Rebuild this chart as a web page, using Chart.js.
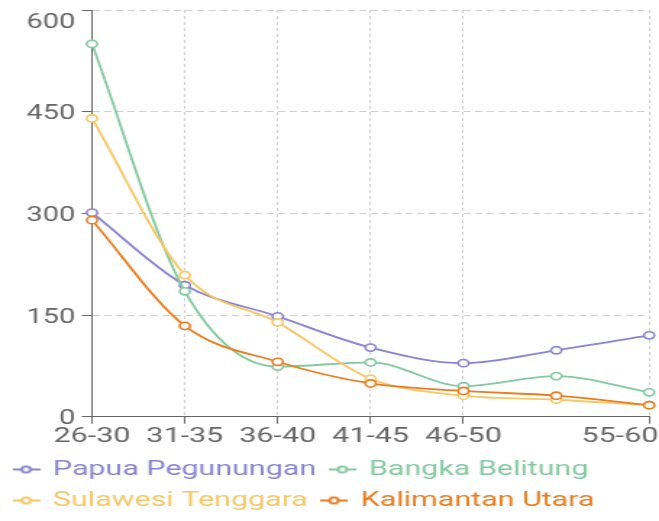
<!DOCTYPE html>
<html>
<head>
<meta charset="utf-8">
<script src="https://cdn.jsdelivr.net/npm/chart.js@4/dist/chart.umd.min.js"></script>
<style>
  html, body { margin: 0; padding: 0; background: #fff; overflow: hidden; }
  #wrap { width: 455px; height: 521px; transform: scaleX(1.4484); transform-origin: 0 0; }
</style>
</head>
<body>
<div id="wrap"><canvas id="c" width="455" height="521"></canvas></div>
<script>
// Age groups along the x axis
const categories = ['26-30', '31-35', '36-40', '41-45', '46-50', '51-55', '55-60'];
// Categories that get no tick, label or grid line
const unlabeledCategories = ['51-55'];
// Value axis ticks
const yTicks = [0, 150, 300, 450, 600];

// Series
const papuaPegunungan   = [301, 194, 148, 102, 79, 98, 120];
const bangkaBelitung    = [550, 185, 74, 80, 45, 60, 36];
const sulawesiTenggara  = [440, 209, 139, 56, 31, 25, 17];
const kalimantanUtara   = [290, 134, 81, 49, 38, 31, 17];

const seriesNames  = ['Papua Pegunungan', 'Bangka Belitung', 'Sulawesi Tenggara', 'Kalimantan Utara'];
const seriesValues = [papuaPegunungan, bangkaBelitung, sulawesiTenggara, kalimantanUtara];
const seriesColors = ['#8985cf', '#84c9a0', '#f5c766', '#e97d1f'];

const AXIS_COLOR = '#666';
const GRID_COLOR = '#cfcfcf';
const Y_FONT = '20px Roboto';
const X_FONT = '21px Roboto';
const LEGEND_SIZE = 21;

Chart.defaults.font.family = 'Roboto';

// Legend marker: short line with a hollow circle in the middle
const iconCache = {};
function legendIcon(color) {
  if (iconCache[color]) return iconCache[color];
  const c = document.createElement('canvas');
  c.width = 19; c.height = 10;
  const g = c.getContext('2d');
  const cx = 9.5, cy = 5, r = 3;
  g.strokeStyle = color;
  g.lineWidth = 2;
  g.beginPath();
  g.moveTo(0, cy); g.lineTo(cx - r, cy);
  g.moveTo(cx + r, cy); g.lineTo(c.width, cy);
  g.stroke();
  g.beginPath();
  g.arc(cx, cy, r, 0, Math.PI * 2);
  g.stroke();
  iconCache[color] = c;
  return c;
}

// Tick labels kept inside the canvas: the last x label is pulled in from the
// right edge and the top y label is pushed down below the top edge.
const tickLabels = {
  id: 'tickLabels',
  afterDraw(chart) {
    const { ctx, chartArea } = chart;
    const xs = chart.scales.x, ys = chart.scales.y;
    ctx.save();
    ctx.fillStyle = AXIS_COLOR;
    ctx.textBaseline = 'alphabetic';

    ctx.font = Y_FONT;
    ctx.textAlign = 'right';
    ys.ticks.forEach(t => {
      const py = Math.max(ys.getPixelForValue(t.value), chartArea.top + 10.5);
      ctx.fillText(String(t.value), ys.right - 11.5, py + 7.5);
    });

    ctx.font = X_FONT;
    ctx.textAlign = 'center';
    xs.ticks.forEach(t => {
      const label = xs.getLabelForValue(t.value);
      const w = ctx.measureText(label).width;
      let px = xs.getPixelForValue(t.value);
      px = Math.min(px, chart.width - w / 2 - 0.5);
      px = Math.max(px, w / 2);
      ctx.fillText(label, px, xs.top + 25);
    });
    ctx.restore();
  }
};

const datasets = seriesNames.map((name, i) => ({
  label: name,
  data: seriesValues[i],
  borderColor: seriesColors[i],
  backgroundColor: '#fff',
  borderWidth: 1.8,
  cubicInterpolationMode: 'monotone',
  pointRadius: 3.6,
  pointBorderWidth: 1.6,
  pointBackgroundColor: '#fff',
  pointBorderColor: seriesColors[i],
  order: seriesNames.length - 1 - i
}));

new Chart(document.getElementById('c'), {
  type: 'line',
  data: { labels: categories, datasets },
  plugins: [tickLabels],
  options: {
    responsive: false,
    animation: false,
    devicePixelRatio: 1,
    events: [],
    layout: { padding: { top: 10, right: 6.8, left: 0, bottom: 0 } },
    scales: {
      x: {
        type: 'category',
        offset: false,
        grid: { color: GRID_COLOR, tickColor: AXIS_COLOR, tickLength: 7, drawTicks: true },
        border: { color: AXIS_COLOR, width: 1, dash: [3, 3] },
        ticks: { display: false, autoSkip: false, maxRotation: 0, minRotation: 0 },
        afterBuildTicks(s) {
          s.ticks = s.ticks.filter(t => !unlabeledCategories.includes(categories[t.value]));
        },
        afterFit(s) {
          s.height = 32.3;
          s.paddingLeft = 0;
          s.paddingRight = 0;
        }
      },
      y: {
        min: 0,
        max: 600,
        grid: { color: GRID_COLOR, tickColor: AXIS_COLOR, tickLength: 7, drawTicks: true },
        border: { color: AXIS_COLOR, width: 1, dash: [5, 3] },
        ticks: { display: false },
        afterBuildTicks(s) {
          s.ticks = yTicks.map(v => ({ value: v }));
        },
        afterFit(s) {
          s.width = 63.5;
          s.paddingTop = 0;
          s.paddingBottom = 0;
        }
      }
    },
    plugins: {
      tooltip: { enabled: false },
      legend: {
        position: 'bottom',
        align: 'start',
        labels: {
          usePointStyle: true,
          pointStyleWidth: 16,
          padding: 10,
          font: { family: 'Roboto', size: LEGEND_SIZE },
          generateLabels(chart) {
            return chart.data.datasets.map((d, i) => ({
              text: d.label,
              fontColor: d.borderColor,
              fillStyle: d.borderColor,
              strokeStyle: d.borderColor,
              lineWidth: 0,
              pointStyle: legendIcon(d.borderColor),
              hidden: false,
              datasetIndex: i
            }));
          }
        }
      }
    }
  }
});
</script>
</body>
</html>
